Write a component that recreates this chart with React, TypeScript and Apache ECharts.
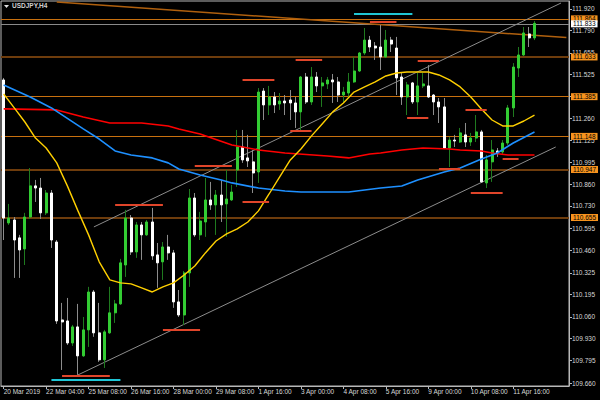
import React, { useEffect, useRef } from 'react';
import * as echarts from 'echarts';

// ---------- data ----------
// candles in ECharts order: [open, close, low, high]
const ohlc: number[][] = [
  [111.491, 110.657, 110.524, 111.503],
  [110.627, 110.657, 110.615, 110.742],
  [110.645, 110.524, 110.295, 110.663],
  [110.537, 110.464, 110.295, 110.555],
  [110.470, 110.663, 110.373, 110.688],
  [110.663, 110.851, 110.651, 110.959],
  [110.851, 110.838, 110.754, 110.887],
  [110.838, 110.688, 110.651, 110.899],
  [110.688, 110.808, 110.675, 110.826],
  [110.808, 110.524, 110.476, 110.826],
  [110.512, 110.035, 110.017, 110.524],
  [110.041, 110.029, 109.739, 110.144],
  [110.035, 109.902, 109.890, 110.174],
  [109.902, 109.999, 109.884, 110.011],
  [109.999, 109.824, 109.709, 110.138],
  [109.824, 109.981, 109.818, 110.059],
  [109.981, 110.210, 109.878, 110.241],
  [110.210, 109.963, 109.939, 110.222],
  [109.963, 109.800, 109.788, 110.144],
  [109.800, 109.969, 109.751, 109.981],
  [109.963, 110.084, 109.957, 110.241],
  [110.084, 110.138, 110.023, 110.162],
  [110.138, 110.386, 110.132, 110.410],
  [110.373, 110.657, 110.301, 110.706],
  [110.657, 110.452, 110.434, 110.675],
  [110.452, 110.615, 110.416, 110.633],
  [110.615, 110.555, 110.404, 110.633],
  [110.555, 110.633, 110.549, 110.645],
  [110.633, 110.428, 110.404, 110.718],
  [110.434, 110.386, 110.235, 110.506],
  [110.392, 110.482, 110.283, 110.512],
  [110.482, 110.446, 110.404, 110.555],
  [110.446, 110.150, 110.114, 110.464],
  [110.150, 110.071, 110.059, 110.222],
  [110.071, 110.325, 110.011, 110.337],
  [110.325, 110.778, 110.241, 110.832],
  [110.778, 110.555, 110.543, 110.808],
  [110.555, 110.639, 110.524, 110.694],
  [110.633, 110.766, 110.543, 110.899],
  [110.766, 110.736, 110.706, 110.875],
  [110.736, 110.796, 110.555, 110.826],
  [110.796, 110.736, 110.633, 110.887],
  [110.742, 110.772, 110.543, 110.947],
  [110.766, 110.814, 110.760, 110.857],
  [110.947, 111.086, 110.845, 111.189],
  [111.086, 111.008, 110.990, 111.189],
  [111.020, 111.002, 110.965, 111.159],
  [110.996, 110.929, 110.808, 111.068],
  [110.935, 111.418, 110.869, 111.442],
  [111.424, 111.340, 111.249, 111.442],
  [111.340, 111.388, 111.279, 111.455],
  [111.388, 111.340, 111.291, 111.418],
  [111.346, 111.364, 111.310, 111.412],
  [111.364, 111.352, 111.279, 111.400],
  [111.370, 111.352, 111.249, 111.430],
  [111.352, 111.298, 111.201, 111.388],
  [111.298, 111.509, 111.189, 111.515],
  [111.509, 111.358, 111.346, 111.533],
  [111.358, 111.509, 111.340, 111.569],
  [111.509, 111.455, 111.418, 111.539],
  [111.455, 111.473, 111.328, 111.509],
  [111.467, 111.491, 111.436, 111.509],
  [111.491, 111.479, 111.352, 111.527],
  [111.479, 111.400, 111.358, 111.509],
  [111.400, 111.418, 111.352, 111.449],
  [111.412, 111.479, 111.388, 111.533],
  [111.479, 111.545, 111.473, 111.630],
  [111.545, 111.654, 111.539, 111.660],
  [111.654, 111.732, 111.642, 111.805],
  [111.732, 111.690, 111.660, 111.757],
  [111.696, 111.684, 111.612, 111.720],
  [111.690, 111.630, 111.551, 111.823],
  [111.630, 111.732, 111.624, 111.793],
  [111.732, 111.708, 111.660, 111.751],
  [111.684, 111.503, 111.400, 111.751],
  [111.509, 111.388, 111.340, 111.533],
  [111.388, 111.461, 111.279, 111.479],
  [111.473, 111.358, 111.346, 111.479],
  [111.358, 111.455, 111.279, 111.533],
  [111.455, 111.467, 111.442, 111.533],
  [111.455, 111.388, 111.382, 111.581],
  [111.400, 111.358, 111.279, 111.406],
  [111.358, 111.328, 111.231, 111.382],
  [111.328, 111.080, 111.074, 111.382],
  [111.080, 111.128, 110.965, 111.147],
  [111.128, 111.122, 111.086, 111.159],
  [111.116, 111.171, 111.110, 111.201],
  [111.159, 111.116, 111.086, 111.231],
  [111.116, 111.140, 111.092, 111.171],
  [111.140, 111.177, 111.116, 111.279],
  [111.177, 110.875, 110.869, 111.189],
  [110.869, 111.008, 110.838, 111.038],
  [110.996, 111.068, 110.875, 111.128],
  [111.062, 111.050, 111.026, 111.080],
  [111.056, 111.110, 111.038, 111.128],
  [111.110, 111.322, 111.098, 111.340],
  [111.322, 111.569, 111.267, 111.593],
  [111.563, 111.642, 111.509, 111.690],
  [111.642, 111.775, 111.636, 111.811],
  [111.769, 111.745, 111.690, 111.811],
  [111.745, 111.833, 111.732, 111.847],
];

// moving averages: [candle index, value]
const yellowMA: number[][] = [
  [0, 111.406], [2, 111.322], [4, 111.237], [6, 111.140], [8, 111.080], [10, 110.990],
  [12, 110.851], [14, 110.700], [16, 110.555], [18, 110.392], [20, 110.283], [22, 110.265],
  [24, 110.259], [26, 110.235], [28, 110.210], [30, 110.241], [32, 110.265], [34, 110.313],
  [36, 110.367], [38, 110.446], [40, 110.518], [42, 110.561], [44, 110.591], [46, 110.633],
  [48, 110.700], [50, 110.802], [52, 110.905], [54, 111.008], [56, 111.074], [58, 111.153],
  [60, 111.225], [62, 111.298], [64, 111.352], [66, 111.418], [68, 111.449], [70, 111.479],
  [72, 111.515], [74, 111.533], [76, 111.539], [78, 111.539], [80, 111.539], [82, 111.521],
  [84, 111.491], [86, 111.449], [88, 111.388], [90, 111.316], [92, 111.249], [94, 111.213],
  [96, 111.213], [98, 111.243], [100, 111.279],
];
const blueMA: number[][] = [
  [0, 111.461], [5, 111.388], [9, 111.322], [15, 111.195], [18, 111.134], [21, 111.062],
  [24, 111.038], [28, 111.020], [31, 110.990], [33, 110.953], [37, 110.917], [41, 110.887],
  [43, 110.869], [48, 110.838], [53, 110.820], [56, 110.814], [65, 110.814], [68, 110.826],
  [71, 110.838], [75, 110.850], [78, 110.887], [83, 110.935], [86, 110.959], [90, 111.014],
  [93, 111.050], [96, 111.110], [100, 111.177],
];
const redMA: number[][] = [
  [0, 111.316], [10, 111.310], [15, 111.267], [20, 111.231], [26, 111.231], [31, 111.213],
  [33, 111.195], [37, 111.165], [43, 111.098], [48, 111.068], [53, 111.050], [61, 111.032],
  [65, 111.020], [69, 111.044], [71, 111.050], [75, 111.068], [79, 111.080], [84, 111.074],
  [86, 111.068], [90, 111.062], [92, 111.050], [95, 111.038], [100, 111.038],
];

// horizontal price levels
const levelValues = [111.864, 111.833, 111.633, 111.385, 111.148, 110.947, 110.655];
const levelKinds = ['thin', 'bid', 'thick', 'thin', 'thin', 'thick', 'thick'];

// trend lines: [startIndex, startValue, endIndex, endValue]
const trendLines: number[][] = [
  [9.7, 111.962, 106, 111.747],
  [13.9, 109.709, 104.3, 111.086],
  [16.9, 110.603, 105.4, 111.956],
];
const trendKinds = ['orange', 'gray', 'gray'];

// short marks: [startIndex, endIndex, value]
const redMarks: number[][] = [
  [10.8, 19.8, 109.703], [20.8, 30.0, 110.736], [29.8, 37.0, 109.981], [35.9, 43.0, 110.971],
  [44.9, 50.0, 110.754], [44.9, 51.1, 111.491], [53.6, 58.1, 111.183], [55.1, 60.2, 111.612],
  [69.0, 74.3, 111.841], [78.1, 82.2, 111.606], [76.0, 80.1, 111.261], [87.1, 91.1, 111.310],
  [82.0, 86.2, 110.953], [94.1, 97.3, 111.014], [88.2, 94.3, 110.808],
];
const cyanMarks: number[][] = [
  [8.7, 21.7, 109.679], [66.0, 77.1, 111.889],
];

const yTicks = [109.66, 109.795, 109.93, 110.06, 110.195, 110.325, 110.46, 110.595, 110.73,
  110.86, 110.995, 111.125, 111.26, 111.39, 111.525, 111.655, 111.79, 111.92];

const CATEGORY_COUNT = 107;
const MONTHS = ['Jan', 'Feb', 'Mar', 'Apr', 'May', 'Jun', 'Jul', 'Aug', 'Sep', 'Oct', 'Nov', 'Dec'];
// H4 bars, weekdays only; before the EU clock change (31 Mar 2019) the broker
// also printed a short Sunday 20:00 bar.
const EU_DST = Date.UTC(2019, 2, 31);
function buildTimes(n: number): string[] {
  const out: string[] = [];
  let t = Date.UTC(2019, 2, 20, 20);
  while (out.length < n) {
    const d = new Date(t);
    const wd = d.getUTCDay();
    const h = d.getUTCHours();
    const sundayBar = wd === 0 && h === 20 && t < EU_DST;
    if ((wd !== 0 && wd !== 6) || sundayBar) {
      const hh = String(h).padStart(2, '0');
      out.push(`${d.getUTCDate()} ${MONTHS[d.getUTCMonth()]} ${hh}:00`);
    }
    t += 4 * 3600 * 1000;
  }
  return out;
}
const categories = buildTimes(CATEGORY_COUNT);

const FONT = '"Liberation Sans", Arial, sans-serif';
const labelEvery = (i: number) => i % 8 === 0 && i <= 96;

export default function App() {
  const ref = useRef<HTMLDivElement>(null);
  useEffect(() => {
    document.body.style.margin = '0';
    document.body.style.background = '#000';
    const chart = echarts.init(ref.current!, undefined, { renderer: 'svg' });

    const bodies = ohlc.map(([o, c]) => [o, c, Math.min(o, c), Math.max(o, c)]);

    const levelLines = levelValues.map((v, i) => {
      const kind = levelKinds[i];
      const color = kind === 'thick' ? '#6e3c0c' : kind === 'bid' ? '#8a8a8a' : '#c8700f';
      return {
        yAxis: v,
        lineStyle: { color, width: kind === 'thick' ? 2 : 1, type: 'solid' },
        label: {
          show: true,
          position: 'end',
          distance: 2,
          formatter: () => v.toFixed(3),
          color: '#000',
          backgroundColor: kind === 'bid' ? '#ffffff' : '#f7931e',
          padding: [0, 2, 0, 2],
          lineHeight: 7,
          fontSize: 6.5,
          fontFamily: FONT,
        },
      };
    });
    const trendItems = trendLines.map(([x1, y1, x2, y2], i) => {
      const style = trendKinds[i] === 'orange'
        ? { color: '#b0600e', width: 1.5, type: 'solid' }
        : { color: '#8c8c8c', width: 1, type: 'solid' };
      return [
        { coord: [x1, y1], lineStyle: style, label: { show: false } },
        { coord: [x2, y2], lineStyle: style, label: { show: false } },
      ];
    });
    const markItems = [
      ...redMarks.map(([a, b, v]) => [
        { coord: [a, v], lineStyle: { color: '#e0452a', width: 2, type: 'solid' } },
        { coord: [b, v], lineStyle: { color: '#e0452a', width: 2, type: 'solid' } },
      ]),
      ...cyanMarks.map(([a, b, v]) => [
        { coord: [a, v], lineStyle: { color: '#1fc6d6', width: 2, type: 'solid' } },
        { coord: [b, v], lineStyle: { color: '#1fc6d6', width: 2, type: 'solid' } },
      ]),
    ];

    const option: any = {
      animation: false,
      backgroundColor: '#000',
      tooltip: { show: false },
      grid: {
        left: 1, right: 31, top: 1, bottom: 14,
        show: true, borderColor: '#b8b8b8', borderWidth: 1, backgroundColor: 'transparent',
      },
      xAxis: {
        type: 'category',
        data: categories,
        boundaryGap: true,
        axisLine: { show: true, lineStyle: { color: '#b8b8b8', width: 1 } },
        axisTick: {
          show: true, alignWithLabel: true, length: 3,
          interval: (i: number) => labelEvery(i),
          lineStyle: { color: '#b8b8b8' },
        },
        axisLabel: {
          interval: (i: number) => labelEvery(i),
          align: 'left',
          margin: 2,
          color: '#d8d8d8',
          fontSize: 6.5,
          fontFamily: FONT,
          formatter: (v: string, i: number) => (i === 0 ? '20 Mar 2019' : v),
        },
        splitLine: { show: false },
      },
      yAxis: {
        type: 'value',
        position: 'right',
        min: 109.642,
        max: 111.968,
        axisLine: { show: true, lineStyle: { color: '#b8b8b8', width: 1 } },
        axisTick: { show: true, length: 3, customValues: yTicks, lineStyle: { color: '#b8b8b8' } },
        axisLabel: {
          customValues: yTicks,
          formatter: (v: number) => v.toFixed(3),
          color: '#d8d8d8',
          fontSize: 6.5,
          fontFamily: FONT,
          margin: 3,
          align: 'left',
        },
        splitLine: { show: false },
      },
      graphic: [
        { type: 'polygon', shape: { points: [[4, 5], [9, 5], [6.5, 8]] }, style: { fill: '#e0e0e0' }, z: 10 },
        {
          type: 'text', left: 12, top: 2, z: 10,
          style: { text: 'USDJPY,H4', fill: '#d0d0d0', font: `bold 6.5px ${FONT}` },
        },
      ],
      series: [
        {
          type: 'candlestick',
          name: 'wicks',
          data: ohlc,
          barWidth: 1,
          silent: true,
          z: 2,
          itemStyle: {
            color: '#1f7a1f', color0: '#8c8c8c',
            borderColor: '#1f7a1f', borderColor0: '#8c8c8c', borderWidth: 1,
          },
          markLine: {
            silent: true,
            symbol: ['none', 'none'],
            z: 1,
            animation: false,
            data: [...levelLines, ...trendItems],
          },
        },
        {
          type: 'candlestick',
          name: 'bodies',
          data: bodies,
          barWidth: 2.5,
          silent: true,
          z: 2,
          itemStyle: {
            color: '#33cc33', color0: '#ffffff',
            borderColor: '#33cc33', borderColor0: '#ffffff', borderWidth: 1,
          },
        },
        {
          type: 'line', name: 'MA red', data: redMA, showSymbol: false, silent: true, z: 3,
          lineStyle: { color: '#ff0000', width: 1.6 },
        },
        {
          type: 'line', name: 'MA blue', data: blueMA, showSymbol: false, silent: true, z: 3,
          lineStyle: { color: '#1e90ff', width: 1.6 },
        },
        {
          type: 'line', name: 'MA yellow', data: yellowMA, showSymbol: false, silent: true, z: 3,
          lineStyle: { color: '#ffd000', width: 1.4 },
          markLine: {
            silent: true,
            symbol: ['none', 'none'],
            z: 4,
            animation: false,
            label: { show: false },
            data: markItems,
          },
        },
      ],
    };
    chart.setOption(option);
    return () => chart.dispose();
  }, []);
  return <div ref={ref} style={{ position: 'absolute', left: 0, top: 0, width: 600, height: 400 }} />;
}
